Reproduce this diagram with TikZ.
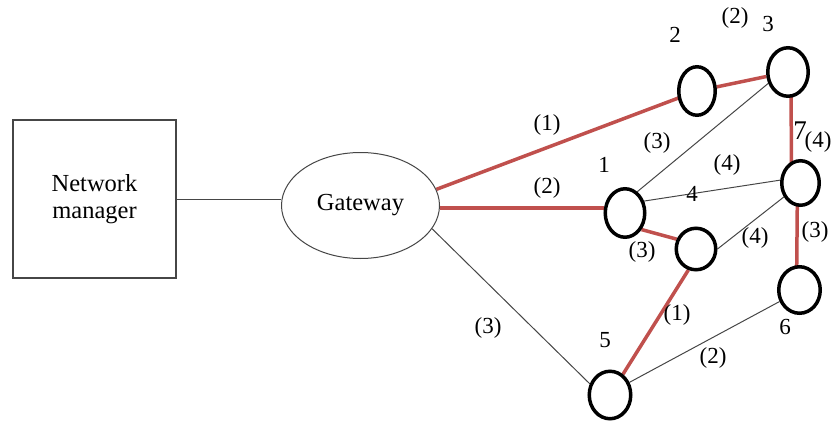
\documentclass[tikz,border=0pt]{standalone}
\usepackage{fontspec}
\setmainfont{Liberation Serif}
\usetikzlibrary{shapes.geometric,backgrounds}
\definecolor{redl}{RGB}{192,80,77}
\definecolor{thinc}{RGB}{70,70,70}
\begin{document}
\begin{tikzpicture}[x=1pt,y=-1pt,
  every node/.style={font=\fontsize{23}{27}\selectfont},
  sn/.style={ellipse, draw=black, line width=3.5pt, fill=white, inner sep=0pt},
  lab/.style={inner sep=0pt},
  big/.style={font=\fontsize{24.5}{27}\selectfont},
  hot/.style={draw=redl, line width=3.5pt},
  thinl/.style={draw=thinc, line width=1pt}]
\useasboundingbox (0,0) rectangle (831,423);
% main blocks
\node[big, draw=thinc, line width=1.2pt, fill=white, minimum width=163pt, minimum height=158pt, align=center, inner sep=0pt] (nm) at (94.5,199) {Network\\manager};
\node[big, ellipse, draw=thinc, line width=1pt, fill=white, minimum width=158pt, minimum height=106pt, inner sep=0pt] (gw) at (360.5,205.5) {Gateway};
% sensor nodes
\node[sn, minimum width=36.5pt, minimum height=48.5pt] (n2) at (697,91) {};
\node[sn, minimum width=40.5pt, minimum height=48.5pt] (n3) at (788,72) {};
\node[sn, minimum width=37.5pt, minimum height=44.5pt] (n7) at (800.5,183) {};
\node[sn, minimum width=39.5pt, minimum height=48.5pt] (n1) at (625,213) {};
\node[sn, minimum width=39.5pt, minimum height=41.5pt] (n4) at (696,249) {};
\node[sn, minimum width=41.5pt, minimum height=46.5pt] (n6) at (799.5,290) {};
\node[sn, minimum width=41.5pt, minimum height=47.5pt] (n5) at (610,395) {};
% connectors
\begin{scope}[on background layer]
\draw[thinl] (nm.east) -- (nm.east -| gw.west);
\draw[hot] (gw.12) -- (n2.center);
\draw[hot] (n1.167) -- (n1.167 -| gw.east);
\draw[hot] (n2) -- (n3);
\draw[hot] ([xshift=3pt]n3.center) -- ([xshift=-9pt]n7.center);
\draw[hot] ([xshift=-3pt]n7.center) -- ([xshift=-3pt]n6.center);
\draw[hot] (n1.-45) -- (n4.153);
\draw[hot] (n4.-110) -- (n5.58);
\draw[thinl] (n1.60) -- (n3.210);
\draw[thinl] (n1.32) -- (n7.172);
\draw[thinl] (n4.east) -- (n7.220);
\draw[thinl] (n5.33) -- (n6.210);
\draw[thinl] (gw.-18) -- (n5.151);
\end{scope}
% labels
\node[lab] (t2) at (675,35) {2};
\node[lab] (e23) at (735,18) {(2)};
\node[lab] (t3) at (768,24) {3};
\node[lab] (e13) at (657,143) {(3)};
\node[lab] (t1) at (604,165) {1};
\node[lab] (e17) at (727,165) {(4)};
\node[lab] (t4) at (692,194) {4};
\node[lab, font=\fontsize{27}{30}\selectfont] (t7) at (800,131) {7};
\node[lab] (e37) at (818,142) {(4)};
\node[lab] (e14) at (642,252) {(3)};
\node[lab] (e47) at (755,238) {(4)};
\node[lab] (e76) at (815,232) {(3)};
\node[lab] (e45) at (677,315) {(1)};
\node[lab] (t6) at (785,327) {6};
\node[lab] (t5) at (605,340) {5};
\node[lab] (e56) at (713,358) {(2)};
\node[lab] (eg2) at (547,125) {(1)};
\node[lab] (eg1) at (547,188) {(2)};
\node[lab] (eg5) at (488,328) {(3)};
\end{tikzpicture}
\end{document}
